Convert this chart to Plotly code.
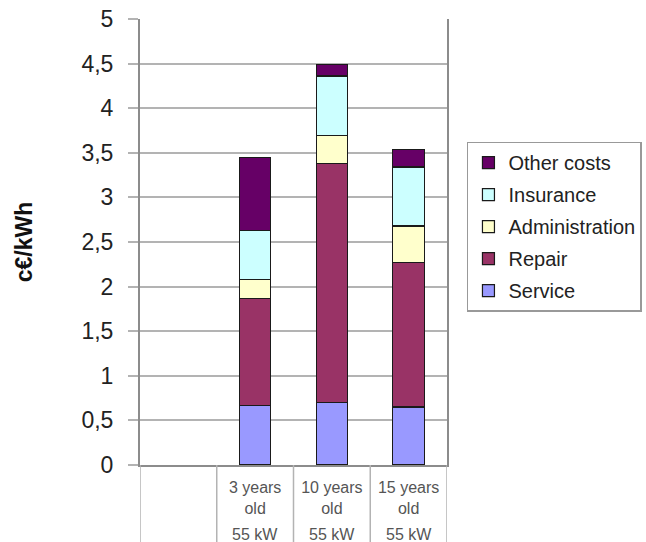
import plotly.graph_objects as go

# ---- data ----
categories = ["", "3 years<br>old", "10 years<br>old", "15 years<br>old"]
power = ["", "55 kW", "55 kW", "55 kW"]
service = [None, 0.67, 0.70, 0.65]
repair = [None, 1.20, 2.68, 1.62]
administration = [None, 0.21, 0.31, 0.41]
insurance = [None, 0.55, 0.67, 0.66]
other_costs = [None, 0.82, 0.13, 0.20]
y_ticks = [0, 0.5, 1, 1.5, 2, 2.5, 3, 3.5, 4, 4.5, 5]

series = [
    ("Service", service, "#9999FF"),
    ("Repair", repair, "#993366"),
    ("Administration", administration, "#FFFFCC"),
    ("Insurance", insurance, "#CCFFFF"),
    ("Other costs", other_costs, "#660066"),
]

xpos = list(range(len(categories)))

fig = go.Figure()
n = len(series)
for k, (name, vals, color) in enumerate(series):
    fig.add_trace(go.Bar(
        x=xpos, y=vals, name=name, legendgroup=name, legendrank=n - k,
        marker=dict(color=color, line=dict(color="#1a1a1a", width=1.2)),
        width=0.41,
    ))

FONT = "Liberation Sans, Arial, sans-serif"
GRID = "#b3b3b3"
AX = "#8c8c8c"

fig.update_layout(
    width=646, height=542,
    margin=dict(l=140, r=199, t=19, b=77, autoexpand=False),
    barmode="stack",
    separators=",.",
    paper_bgcolor="white", plot_bgcolor="white",
    font=dict(family=FONT, color="#222222"),
    showlegend=True,
    legend=dict(
        x=1.065, y=0.725, xanchor="left", yanchor="top",
        traceorder="grouped", tracegroupgap=3,
        font=dict(size=20, family=FONT, color="#222222"),
        bordercolor="#999999", borderwidth=1.5, bgcolor="white",
        itemwidth=30,
    ),
    xaxis=dict(
        range=[-0.5, 3.5], tickvals=xpos, ticktext=categories,
        showgrid=False, zeroline=False, ticks="",
        showline=True, linecolor=AX, linewidth=2,
        tickfont=dict(size=16, color="#555555", family=FONT),
        ticklabelstandoff=7, automargin=False,
    ),
    yaxis=dict(
        range=[0, 5], tickvals=y_ticks,
        showgrid=True, gridcolor=GRID, gridwidth=1.5,
        zeroline=False,
        showline=True, mirror=True, linecolor=AX, linewidth=2,
        ticks="outside", ticklen=10, tickcolor=GRID, tickwidth=1.5,
        tickfont=dict(size=23, color="#222222", family=FONT),
        ticklabelstandoff=10, automargin=False,
        title=dict(text="<b>c€/kWh</b>", font=dict(size=23, color="#111111", family=FONT), standoff=42),
    ),
)

# table lines below the plot
for b in [-0.5, 0.5, 1.5, 2.5, 3.5]:
    fig.add_shape(type="line", xref="x", yref="paper", x0=b, x1=b, y0=0, y1=-0.2,
                  line=dict(color=GRID, width=1.5))

for i, p in enumerate(power):
    if p:
        fig.add_annotation(x=xpos[i], y=-0.155, xref="x", yref="paper", text=p,
                           yanchor="middle", showarrow=False,
                           font=dict(size=16, color="#555555", family=FONT))

fig.write_html("out.html", config={"displayModeBar": False},
               post_script="document.body.style.margin='0px';")
